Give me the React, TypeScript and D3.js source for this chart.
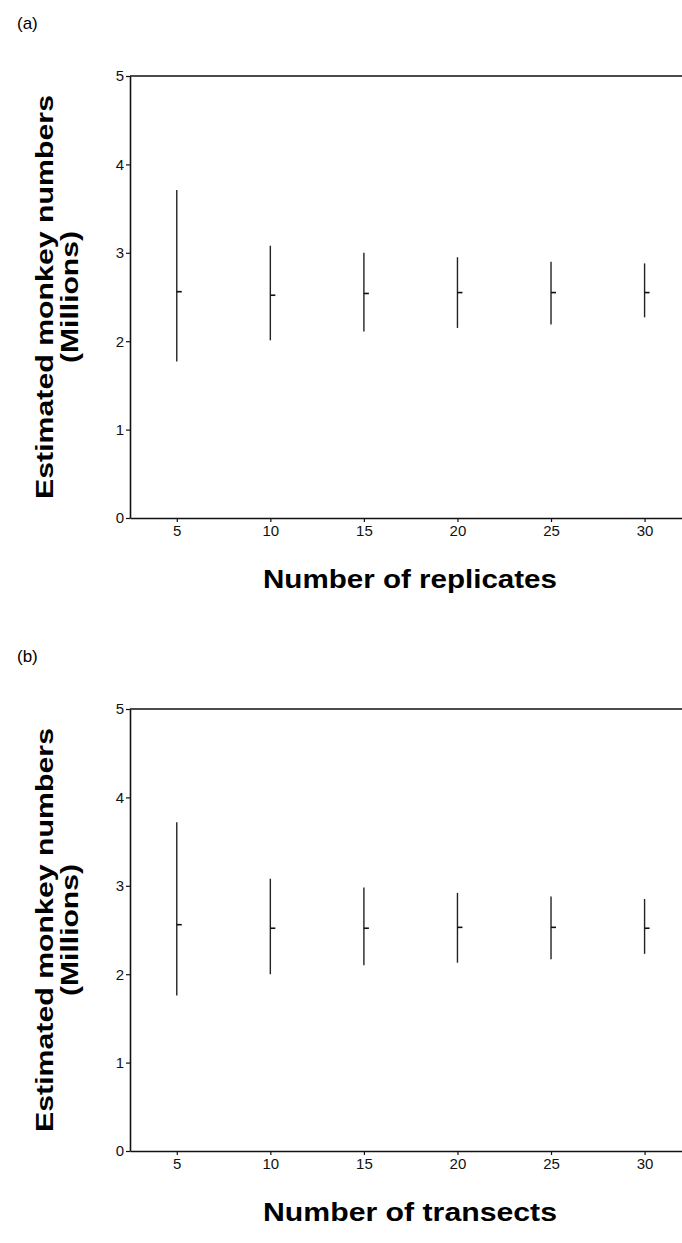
import React, { useEffect, useRef } from "react";
import * as d3 from "d3";

// x positions: number of replicates / transects
const sampleSizes = [5, 10, 15, 20, 25, 30];
const yTicks = [0, 1, 2, 3, 4, 5];

// panel (a) - estimates vs number of replicates (millions)
const replicateMean = [2.56, 2.52, 2.54, 2.55, 2.55, 2.55];
const replicateLow = [1.77, 2.01, 2.11, 2.15, 2.19, 2.27];
const replicateHigh = [3.71, 3.08, 3.0, 2.95, 2.9, 2.88];

// panel (b) - estimates vs number of transects (millions)
const transectMean = [2.56, 2.52, 2.52, 2.53, 2.53, 2.52];
const transectLow = [1.76, 2.0, 2.1, 2.13, 2.17, 2.23];
const transectHigh = [3.72, 3.08, 2.98, 2.92, 2.88, 2.85];

const panels = [
  { tag: "(a)", xTitle: "Number of replicates", mean: replicateMean, low: replicateLow, high: replicateHigh },
  { tag: "(b)", xTitle: "Number of transects", mean: transectMean, low: transectLow, high: transectHigh },
];

const FONT = "'Liberation Sans', Arial, Helvetica, sans-serif";

function drawPanels(node: SVGSVGElement) {
  const svg = d3.select(node);
  svg.selectAll("*").remove();

  const left = 130,
    right = 682,
    plotH = 442;
  const tops = [76, 709];

  const x = d3.scaleLinear().domain([2.5, 32]).range([left, right]);

  panels.forEach(function (p, i) {
    const top = tops[i];
    const y = d3.scaleLinear().domain([0, 5]).range([top + plotH, top]);
    const g = svg.append("g");

    // panel letter
    g.append("text")
      .attr("x", 17)
      .attr("y", top - 47)
      .attr("font-size", 17)
      .attr("font-family", FONT)
      .text(p.tag);

    // top frame line
    g.append("line")
      .attr("x1", left)
      .attr("x2", right)
      .attr("y1", y(5))
      .attr("y2", y(5))
      .attr("stroke", "#111")
      .attr("stroke-width", 1.6);

    // y axis
    const yAxis = g
      .append("g")
      .attr("transform", "translate(" + left + ",0)")
      .call(d3.axisLeft(y).tickValues(yTicks).tickFormat(d3.format("d")).tickSize(4).tickSizeOuter(0).tickPadding(2));

    // x axis
    const xAxis = g
      .append("g")
      .attr("transform", "translate(0," + y(0) + ")")
      .call(d3.axisBottom(x).tickValues(sampleSizes).tickSize(4).tickSizeOuter(0).tickPadding(3));

    [yAxis, xAxis].forEach(function (a) {
      a.select(".domain").attr("stroke", "#111").attr("stroke-width", 1.6);
      a.selectAll(".tick line").attr("stroke", "#111").attr("stroke-width", 1.2);
      a.selectAll(".tick text")
        .attr("fill", "#111")
        .attr("font-size", 15)
        .attr("font-family", FONT);
    });

    // range bars
    g.selectAll(".rangeBar")
      .data(sampleSizes)
      .enter()
      .append("line")
      .attr("class", "rangeBar")
      .attr("x1", (d) => x(d))
      .attr("x2", (d) => x(d))
      .attr("y1", (d, j) => y(p.low[j]))
      .attr("y2", (d, j) => y(p.high[j]))
      .attr("stroke", "#222")
      .attr("stroke-width", 1.4);

    // mean marks
    g.selectAll(".meanMark")
      .data(sampleSizes)
      .enter()
      .append("line")
      .attr("class", "meanMark")
      .attr("x1", (d) => x(d))
      .attr("x2", (d) => x(d) + 5)
      .attr("y1", (d, j) => y(p.mean[j]))
      .attr("y2", (d, j) => y(p.mean[j]))
      .attr("stroke", "#111")
      .attr("stroke-width", 1.6);

    // y title (two lines)
    const cy = (top + top + plotH) / 2;
    g.append("text")
      .attr("transform", "translate(53," + cy + ") rotate(-90)")
      .attr("text-anchor", "middle")
      .attr("font-size", 24)
      .attr("font-weight", "bold")
      .attr("font-family", FONT)
      .attr("textLength", 404)
      .attr("lengthAdjust", "spacingAndGlyphs")
      .text("Estimated monkey numbers");
    g.append("text")
      .attr("transform", "translate(78," + cy + ") rotate(-90)")
      .attr("text-anchor", "middle")
      .attr("font-size", 24)
      .attr("font-weight", "bold")
      .attr("font-family", FONT)
      .attr("textLength", 132)
      .attr("lengthAdjust", "spacingAndGlyphs")
      .text("(Millions)");

    // x title
    g.append("text")
      .attr("x", 410)
      .attr("y", y(0) + 70)
      .attr("text-anchor", "middle")
      .attr("font-size", 25)
      .attr("font-weight", "bold")
      .attr("font-family", FONT)
      .attr("textLength", 294)
      .attr("lengthAdjust", "spacingAndGlyphs")
      .text(p.xTitle);
  });
}

export default function App() {
  const ref = useRef<SVGSVGElement>(null);

  useEffect(() => {
    if (ref.current) drawPanels(ref.current);
  }, []);

  return (
    <svg
      ref={ref}
      width={682}
      height={1243}
      style={{ position: "absolute", left: 0, top: 0, background: "#fff" }}
    />
  );
}
